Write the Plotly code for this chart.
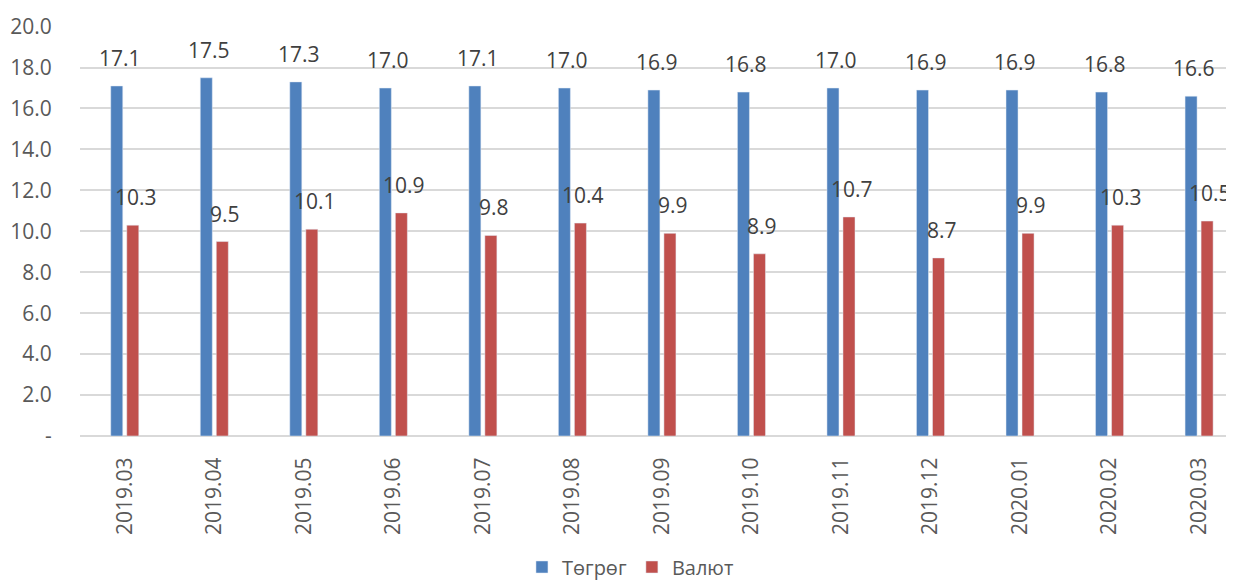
"""Төгрөг / Валют grouped bar chart."""

import plotly.graph_objects as go

PERIODS = [
    "2019.03", "2019.04", "2019.05", "2019.06", "2019.07", "2019.08", "2019.09",
    "2019.10", "2019.11", "2019.12", "2020.01", "2020.02", "2020.03",
]
TOGROG = [17.1, 17.5, 17.3, 17.0, 17.1, 17.0, 16.9, 16.8, 17.0, 16.9, 16.9, 16.8, 16.6]
VALYUT = [10.3, 9.5, 10.1, 10.9, 9.8, 10.4, 9.9, 8.9, 10.7, 8.7, 9.9, 10.3, 10.5]
Y_TICKS = [0, 2, 4, 6, 8, 10, 12, 14, 16, 18, 20]
Y_TICK_TEXT = ["-"] + [f"{v:.1f}" for v in Y_TICKS[1:]]

BLUE = "#4F81BD"
RED = "#C0504D"
FONT = "Open Sans"
TEXT_GREY = "#595959"
LABEL_GREY = "#404040"

fig = go.Figure()
fig.add_trace(go.Bar(x=PERIODS, y=TOGROG, name="Төгрөг", marker_color=BLUE))
fig.add_trace(go.Bar(x=PERIODS, y=VALYUT, name="Валют", marker_color=RED))

# data labels above the bars; category index used as x because the
# period strings look numeric and would be read as positions
for series, shift in ((TOGROG, -5), (VALYUT, 11)):
    for idx, val in enumerate(series):
        fig.add_annotation(
            x=idx, y=val, text=f"{val:.1f}", showarrow=False,
            xshift=shift, yshift=12, yanchor="bottom",
            font=dict(family=FONT, size=21, color=LABEL_GREY),
        )

# the page body adds an 8px offset, so margins are trimmed by that much
fig.update_layout(
    width=1234, height=580, autosize=False,
    margin=dict(l=72, r=8, t=18, b=152, autoexpand=False),
    paper_bgcolor="white", plot_bgcolor="white",
    barmode="group", bargap=0.642, bargroupgap=0.25,
    font=dict(family=FONT, size=20, color=TEXT_GREY),
    showlegend=True,
    legend=dict(
        orientation="h", x=0.477, xanchor="center",
        y=-0.3195, yanchor="middle", font=dict(size=20, color=TEXT_GREY),
    ),
)
fig.update_xaxes(
    type="category", range=[-0.5, 12.39], tickangle=-90, automargin=False,
    showgrid=False, ticks="outside", ticklen=12, tickcolor="white",
    tickfont=dict(size=21, color=TEXT_GREY),
)
fig.update_yaxes(
    range=[0, 20.03], tickvals=Y_TICKS, ticktext=Y_TICK_TEXT, automargin=False,
    showgrid=True, gridcolor="#D9D9D9", gridwidth=1.5,
    zeroline=True, zerolinecolor="#D9D9D9", zerolinewidth=1.5,
    ticks="outside", ticklen=23, tickcolor="white",
    tickfont=dict(size=21, color=TEXT_GREY),
)

fig.write_html("out.html")
